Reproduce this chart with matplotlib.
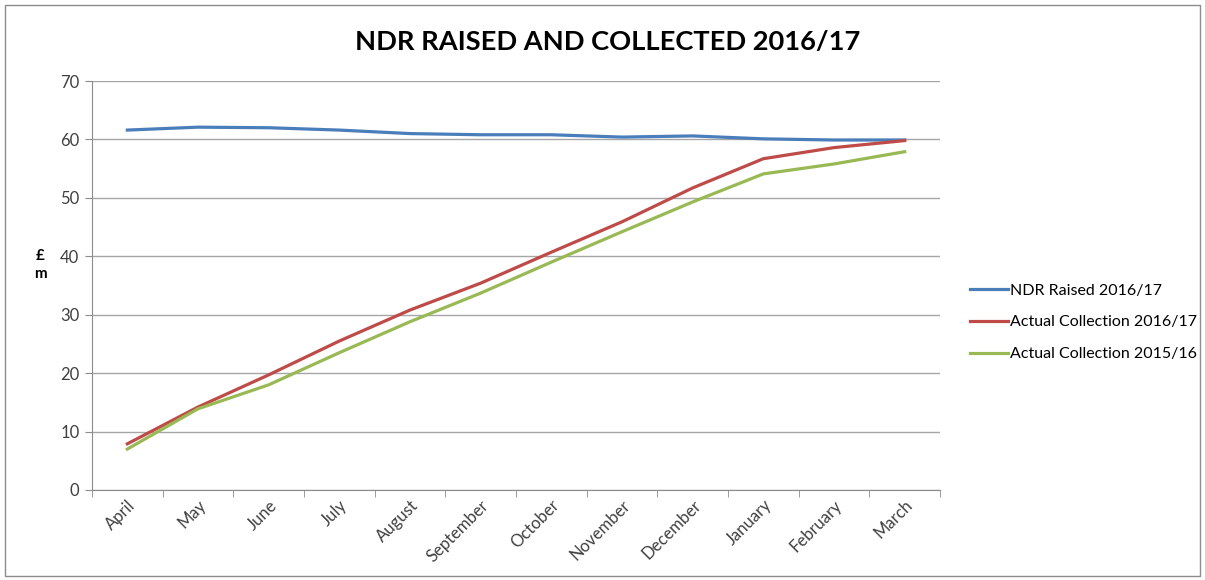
import matplotlib.pyplot as plt
import matplotlib.patches as patches
import numpy as np

months = ['April', 'May', 'June', 'July', 'August', 'September', 'October',
          'November', 'December', 'January', 'February', 'March']
ndr_raised = [61.6, 62.1, 62.0, 61.6, 61.0, 60.8, 60.8, 60.4, 60.6, 60.1, 59.9, 59.9]
collect_1617 = [7.9, 14.2, 19.7, 25.5, 30.8, 35.4, 40.7, 45.9, 51.7, 56.7, 58.6, 59.8]
collect_1516 = [7.0, 13.9, 18.0, 23.5, 28.8, 33.7, 39.0, 44.2, 49.3, 54.1, 55.8, 57.9]

plt.rcParams['font.family'] = ['Lato', 'DejaVu Sans']

fig = plt.figure(figsize=(12.05, 5.8), dpi=100)
ax = fig.add_axes([92/1205, 1-490/580, (940-92)/1205, (490-81)/580])

# outer chart border
fig.patches.append(patches.Rectangle((5/1205, 4/580), 1195/1205, 571/580,
                                     transform=fig.transFigure, fill=False,
                                     edgecolor='#8c8c8c', linewidth=1))

x = np.arange(len(months))
ax.plot(x, ndr_raised, color='#4A7EBB', lw=2.3, label='NDR Raised 2016/17')
ax.plot(x, collect_1617, color='#BE4B48', lw=2.3, label='Actual Collection 2016/17')
ax.plot(x, collect_1516, color='#98B954', lw=2.3, label='Actual Collection 2015/16')

ax.set_xlim(-0.5, len(months)-0.5)
ax.set_ylim(0, 70)
ax.set_yticks(range(0, 71, 10))
ax.yaxis.grid(True, color='#a6a6a6', lw=1)
ax.set_axisbelow(True)

ax.set_xticks(x)
ax.set_xticklabels(months, rotation=45, ha='right', rotation_mode='anchor', fontsize=12, color='#404040')
ax.set_xticks(np.arange(-0.5, len(months), 1), minor=True)
ax.tick_params(axis='x', which='major', length=0, pad=5)
ax.tick_params(axis='x', which='minor', length=5, color='#8c8c8c', direction='out')
ax.tick_params(axis='y', length=5, color='#8c8c8c', labelsize=12, labelcolor='#404040', pad=4)

for s in ['top', 'right']:
    ax.spines[s].set_visible(False)
for s in ['left', 'bottom']:
    ax.spines[s].set_color('#8c8c8c')

fig.text(40/1205, 1-265/580, '£\nm', ha='center', va='center', fontsize=11,
         fontweight='bold', linespacing=1.4)

fig.text(608/1205, 1-42/580, 'NDR RAISED AND COLLECTED 2016/17', ha='center', va='center',
         fontsize=19.6, fontweight='bold')

ax.legend(loc='center left', bbox_to_anchor=(1.018, 0.41), frameon=False,
          fontsize=11.5, handlelength=2.4, handletextpad=0.1, labelspacing=1.1)

plt.savefig('out.png', dpi=100)
